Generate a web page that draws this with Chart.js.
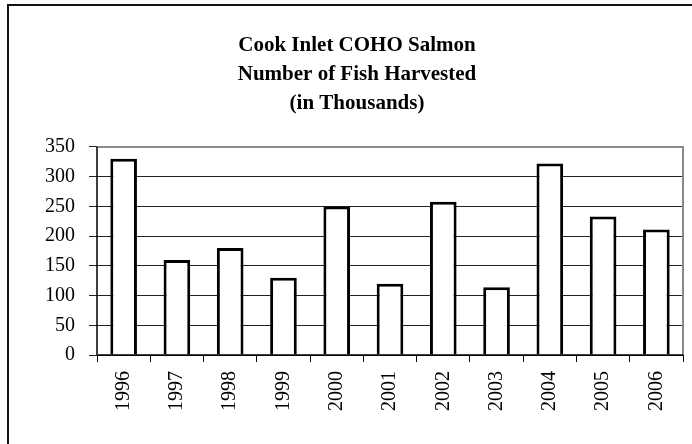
<!DOCTYPE html>
<html>
<head>
<meta charset="utf-8">
<script src="https://cdn.jsdelivr.net/npm/chart.js@4.4.1/dist/chart.umd.min.js"></script>
<style>
html,body{margin:0;padding:0;background:#fff;}
#wrap{width:692px;height:444px;position:relative;}
</style>
</head>
<body>
<div id="wrap"><canvas id="c" width="692" height="444"></canvas></div>
<script>
const titleLines = ["Cook Inlet COHO Salmon", "Number of Fish Harvested", "(in Thousands)"];
const years = ["1996","1997","1998","1999","2000","2001","2002","2003","2004","2005","2006"];
const harvest = [330, 160, 180, 130, 250, 120, 258, 114, 322, 233, 211];
const yMin = 0, yMax = 350, yStep = 50;

const frame = {
  id: 'frame',
  beforeDraw(chart) {
    const ctx = chart.ctx;
    ctx.save();
    ctx.fillStyle = '#fff';
    ctx.fillRect(0, 0, chart.width, chart.height);
    ctx.strokeStyle = '#111';
    ctx.lineWidth = 2;
    ctx.beginPath();
    ctx.moveTo(8, chart.height + 2);
    ctx.lineTo(8, 5);
    ctx.lineTo(chart.width + 2, 5);
    ctx.stroke();
    ctx.restore();
  },
  afterDatasetsDraw(chart) {
    const a = chart.chartArea, ctx = chart.ctx;
    ctx.save();
    ctx.strokeStyle = '#8a8a8a';
    ctx.lineWidth = 2;
    ctx.beginPath();
    ctx.moveTo(a.left, a.top);
    ctx.lineTo(a.right, a.top);
    ctx.lineTo(a.right, a.bottom);
    ctx.stroke();
    ctx.strokeStyle = '#000';
    ctx.lineWidth = 1.5;
    ctx.beginPath();
    ctx.moveTo(a.left, a.top);
    ctx.lineTo(a.left, a.bottom);
    ctx.lineTo(a.right, a.bottom);
    ctx.stroke();
    ctx.restore();
  }
};

new Chart(document.getElementById('c'), {
  type: 'bar',
  data: {
    labels: years,
    datasets: [{
      data: harvest,
      backgroundColor: '#fff',
      borderColor: '#000',
      borderWidth: 3,
      barPercentage: 1,
      categoryPercentage: 0.5
    }]
  },
  plugins: [frame],
  options: {
    responsive: false,
    animation: false,
    layout: { padding: { left: 31, right: 9, top: 4, bottom: 24 } },
    plugins: {
      legend: { display: false },
      tooltip: { enabled: false },
      title: {
        display: true,
        text: titleLines,
        color: '#000',
        font: { family: '"Liberation Serif", "Times New Roman", serif', size: 21, weight: 'bold', lineHeight: 1.38 },
        padding: { top: 27, bottom: 29 }
      }
    },
    scales: {
      x: {
        grid: { display: true, drawOnChartArea: false, drawTicks: true, tickLength: 7, color: '#000', offset: true },
        border: { display: false },
        ticks: {
          color: '#000',
          font: { family: '"Liberation Serif", "Times New Roman", serif', size: 20 },
          minRotation: 90, maxRotation: 90, padding: 9, autoSkip: false
        }
      },
      y: {
        min: yMin, max: yMax,
        grid: { color: '#222', lineWidth: 1, tickLength: 8, drawTicks: true },
        border: { display: false },
        ticks: {
          stepSize: yStep,
          color: '#000',
          font: { family: '"Liberation Serif", "Times New Roman", serif', size: 20 },
          padding: 14
        }
      }
    }
  }
});
</script>
</body>
</html>
